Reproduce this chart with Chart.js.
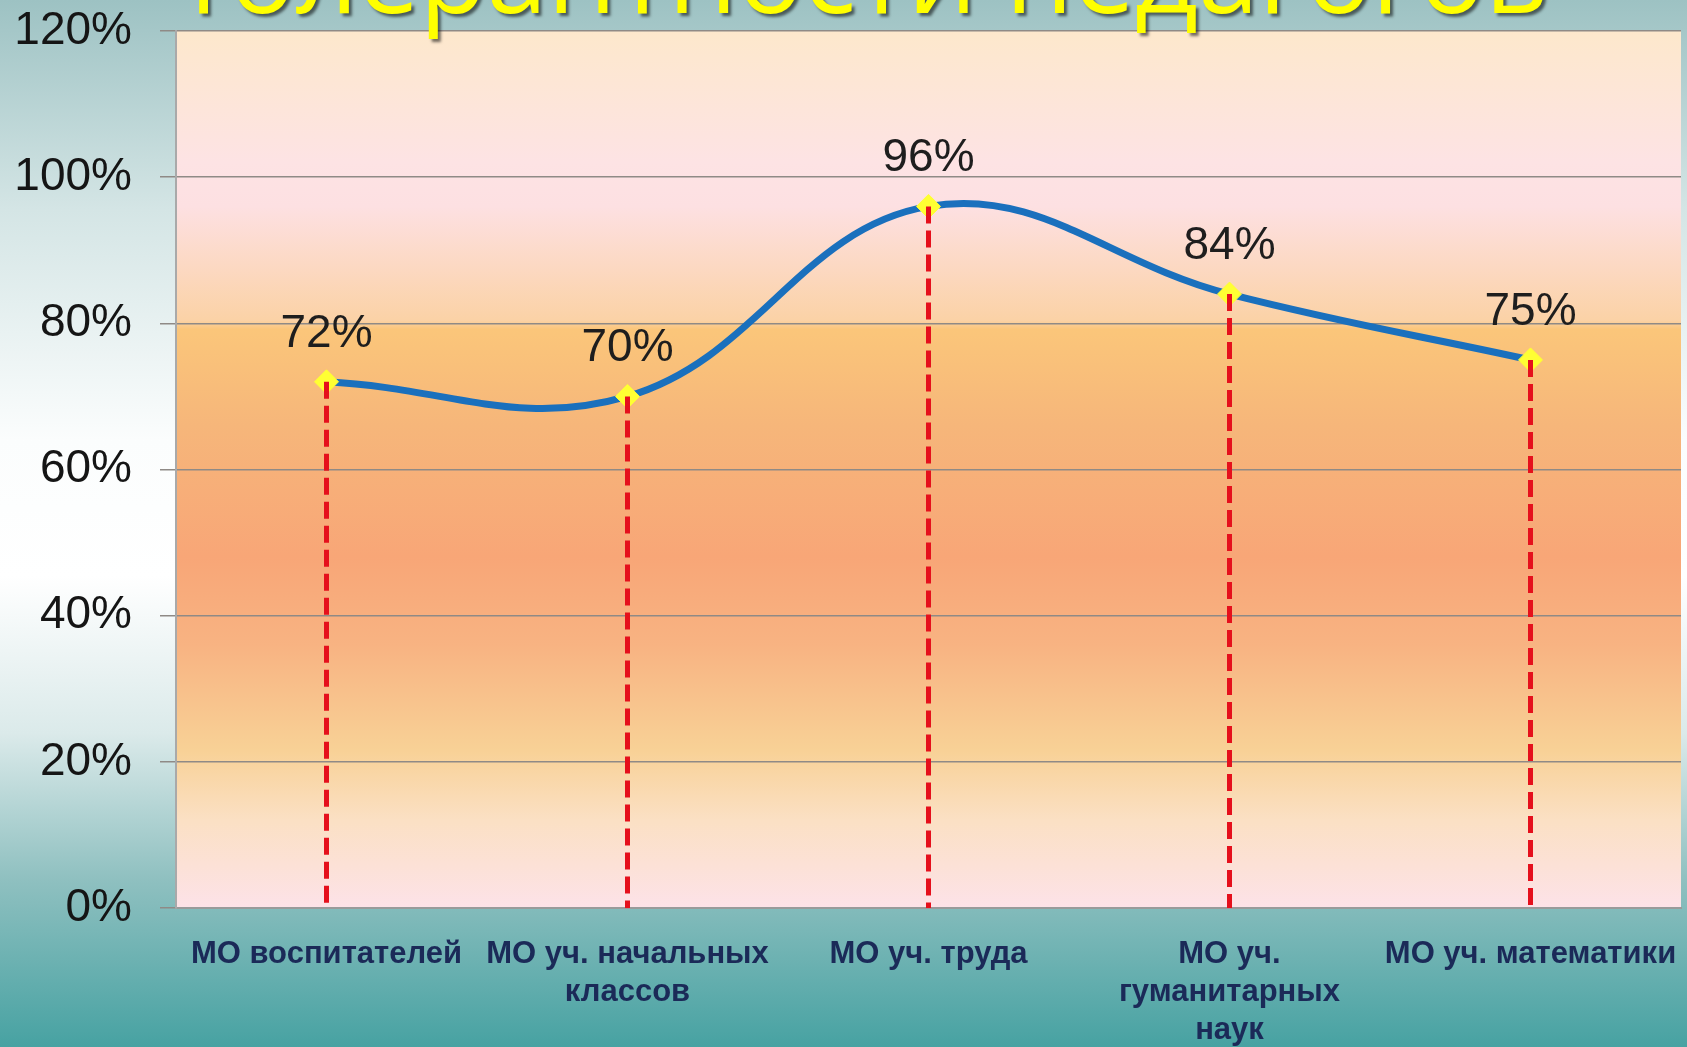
<!DOCTYPE html>
<html>
<head>
<meta charset="utf-8">
<script src="https://cdn.jsdelivr.net/npm/chart.js@4/dist/chart.umd.min.js"></script>
<style>
	body { margin: 0; overflow: hidden; }
	#chart { display: block; }
</style>
</head>
<body>
<canvas id="chart" width="1687" height="1047"></canvas>
<script>
var titleText = 'толерантности педагогов';

var categories = [
	'МО воспитателей',
	['МО уч. начальных', 'классов'],
	'МО уч. труда',
	['МО уч.', 'гуманитарных', 'наук'],
	'МО уч. математики'
];

var values = [72, 70, 96, 84, 75];

var yTicks = [0, 20, 40, 60, 80, 100, 120];

// backgrounds: slide gradient + plot area gradient
var backgroundPlugin = {
	id: 'backgrounds',
	beforeDraw: function (chart) {
		var ctx = chart.ctx;
		var area = chart.chartArea;
		ctx.save();
		var bg = ctx.createLinearGradient(0, 0, 0, chart.height);
		bg.addColorStop(0, '#9dc2c3');
		bg.addColorStop(0.2, '#d4e5e5');
		bg.addColorStop(0.42, '#fbfdfd');
		bg.addColorStop(0.55, '#ffffff');
		bg.addColorStop(0.7, '#dbeaea');
		bg.addColorStop(0.84, '#8fc0c0');
		bg.addColorStop(1, '#47a2a2');
		ctx.fillStyle = bg;
		ctx.fillRect(0, 0, chart.width, chart.height);

		var pg = ctx.createLinearGradient(0, area.top, 0, area.bottom);
		pg.addColorStop(0, '#fde8cc');
		pg.addColorStop(0.15, '#fde3e4');
		pg.addColorStop(0.2, '#fde0e2');
		pg.addColorStop(0.33, '#fbd2a6');
		pg.addColorStop(0.34, '#fbc67a');
		pg.addColorStop(0.45, '#f6b67a');
		pg.addColorStop(0.6, '#f8a677');
		pg.addColorStop(0.7, '#f8b382');
		pg.addColorStop(0.82, '#f8d196');
		pg.addColorStop(0.9, '#fbe0c4');
		pg.addColorStop(1, '#fde2e8');
		ctx.fillStyle = pg;
		ctx.fillRect(area.left, area.top, area.right - area.left, area.bottom - area.top);
		ctx.restore();
	}
};

// yellow slide title, cut off at the top
var titlePlugin = {
	id: 'slideTitle',
	afterDraw: function (chart) {
		var ctx = chart.ctx;
		ctx.save();
		var size = 100;
		ctx.font = size + 'px "Open Sans"';
		var w = ctx.measureText(titleText).width;
		size = size * 1370 / w;
		ctx.font = size + 'px "Open Sans"';
		ctx.fillStyle = '#ffff00';
		ctx.textBaseline = 'alphabetic';
		ctx.shadowColor = 'rgba(0,0,0,0.55)';
		ctx.shadowOffsetX = 3;
		ctx.shadowOffsetY = 3;
		ctx.shadowBlur = 3;
		ctx.fillText(titleText, 178, 13);
		ctx.restore();
	}
};

// red dashed drop lines and value labels
var dropLinePlugin = {
	id: 'dropLines',
	afterDatasetsDraw: function (chart) {
		var ctx = chart.ctx;
		var meta = chart.getDatasetMeta(0);
		var yScale = chart.scales.y;
		ctx.save();
		ctx.strokeStyle = '#e5101c';
		ctx.lineWidth = 5;
		ctx.setLineDash([17, 7]);
		meta.data.forEach(function (pt) {
			ctx.beginPath();
			ctx.moveTo(pt.x, pt.y);
			ctx.lineTo(pt.x, yScale.getPixelForValue(0));
			ctx.stroke();
		});
		ctx.setLineDash([]);
		ctx.fillStyle = '#1e1e1e';
		ctx.font = '46px "Liberation Sans"';
		ctx.textAlign = 'center';
		ctx.textBaseline = 'alphabetic';
		meta.data.forEach(function (pt, i) {
			ctx.fillText(values[i] + '%', pt.x, pt.y - 35);
		});
		ctx.restore();
	}
};

function chartBuilder() {
	var ctx = document.getElementById('chart');
	var myChart = new Chart(ctx, {
		type: 'line',
		data: {
			labels: categories,
			datasets: [{
				data: values,
				borderColor: '#1a70bd',
				borderWidth: 7,
				tension: 0.4,
				pointStyle: 'rectRot',
				pointRadius: 12,
				pointBackgroundColor: '#ffff33',
				pointBorderColor: '#ffff33',
				pointBorderWidth: 1,
				fill: false
			}]
		},
		options: {
			responsive: false,
			animation: false,
			devicePixelRatio: 1,
			layout: { autoPadding: false, padding: { top: 31, right: 6, left: 0, bottom: 0 } },
			plugins: {
				legend: { display: false },
				tooltip: { enabled: false },
				title: { display: false }
			},
			scales: {
				x: {
					offset: true,
					grid: { display: false, drawTicks: false },
					border: { display: true, color: '#9a9a9a', width: 2 },
					ticks: {
						color: '#1b2a58',
						font: { family: 'Liberation Sans', size: 31, weight: 'bold', lineHeight: 1.22 },
						padding: 28,
						maxRotation: 0,
						autoSkip: false
					},
					afterFit: function (scale) {
						scale.height = 139;
						scale.paddingLeft = 0;
						scale.paddingRight = 0;
					}
				},
				y: {
					min: 0,
					max: 120,
					afterBuildTicks: function (scale) {
						scale.ticks = yTicks.map(function (v) { return { value: v }; });
					},
					grid: { color: '#8f8a86', lineWidth: 1.5, tickLength: 16 },
					border: { display: true, color: '#a9a9a9', width: 2 },
					ticks: {
						color: '#151515',
						font: { family: 'Liberation Sans', size: 46 },
						padding: 28,
						callback: function (v) { return v + '%'; }
					},
					afterFit: function (scale) {
						scale.width = 176;
						scale.paddingTop = 0;
						scale.paddingBottom = 0;
					}
				}
			}
		},
		plugins: [backgroundPlugin, dropLinePlugin, titlePlugin]
	});
}

chartBuilder();
</script>
</body>
</html>
